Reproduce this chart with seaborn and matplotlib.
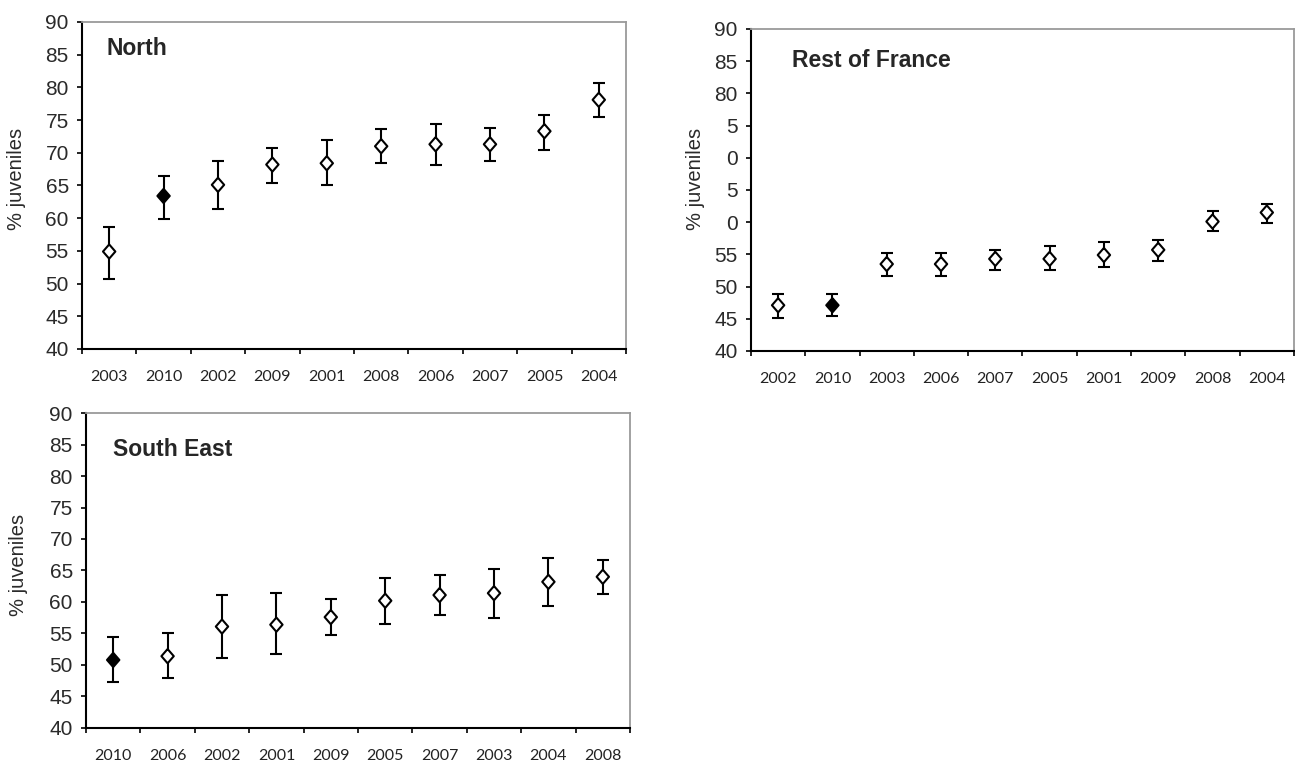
import pandas as pd
import matplotlib
matplotlib.use("Agg")
import matplotlib.pyplot as plt
import seaborn as sns

# North
north_years = ["2003", "2010", "2002", "2009", "2001", "2008", "2006", "2007", "2005", "2004"]
north_mean = [54.9, 63.4, 65.1, 68.2, 68.4, 71.0, 71.3, 71.3, 73.3, 78.1]
north_lo = [50.7, 59.9, 61.4, 65.4, 65.1, 68.5, 68.2, 68.7, 70.4, 75.5]
north_hi = [58.6, 66.5, 68.7, 70.8, 71.9, 73.6, 74.4, 73.8, 75.8, 80.7]

# Rest of France
rest_years = ["2002", "2010", "2003", "2006", "2007", "2005", "2001", "2009", "2008", "2004"]
rest_mean = [47.1, 47.1, 53.5, 53.5, 54.3, 54.3, 54.9, 55.7, 60.1, 61.5]
rest_lo = [45.1, 45.4, 51.7, 51.7, 52.6, 52.6, 53.1, 54.0, 58.6, 59.8]
rest_hi = [48.8, 48.8, 55.2, 55.2, 55.7, 56.3, 56.9, 57.2, 61.8, 62.9]

# South East
se_years = ["2010", "2006", "2002", "2001", "2009", "2005", "2007", "2003", "2004", "2008"]
se_mean = [50.8, 51.4, 56.1, 56.4, 57.6, 60.2, 61.1, 61.4, 63.2, 64.0]
se_lo = [47.3, 47.9, 51.1, 51.7, 54.7, 56.5, 57.9, 57.4, 59.3, 61.2]
se_hi = [54.4, 55.0, 61.1, 61.4, 60.5, 63.8, 64.3, 65.2, 67.0, 66.7]

y_ticks = [40, 45, 50, 55, 60, 65, 70, 75, 80, 85, 90]
y_labels = ["40", "45", "50", "55", "60", "65", "70", "75", "80", "85", "90"]
y_labels_rest = ["40", "45", "50", "55", "0", "5", "0", "5", "80", "85", "90"]

sns.set_style("white")
plt.rcParams["font.family"] = ["Liberation Sans", "DejaVu Sans"]

diamond = [(0, 1), (0.87, 0), (0, -1), (-0.87, 0), (0, 1)]

fig = plt.figure(figsize=(12.95, 7.63), dpi=100)
panels = [
    ("North", north_years, north_mean, north_lo, north_hi, y_labels,
     [0.0633, 0.5426, 0.4201, 0.4286], (0.046, 0.955), (-0.103, 0.52)),
    ("Rest of France", rest_years, rest_mean, rest_lo, rest_hi, y_labels_rest,
     [0.5799, 0.5400, 0.4193, 0.4220], (0.076, 0.937), (-0.085, 0.534)),
    ("South East", se_years, se_mean, se_lo, se_hi, y_labels,
     [0.0664, 0.0459, 0.4201, 0.4128], (0.05, 0.922), (-0.107, 0.517)),
]

for title, years, mean, lo, hi, ylabs, rect, tpos, lpos in panels:
    ax = fig.add_axes(rect)
    df = pd.DataFrame({"year": years, "mean": mean, "lo": lo, "hi": hi})
    df["pos"] = range(len(df))
    df["last"] = df["year"] == "2010"

    ax.errorbar(df["pos"], df["mean"],
                yerr=[df["mean"] - df["lo"], df["hi"] - df["mean"]],
                fmt="none", ecolor="black", elinewidth=1.5,
                capsize=4.5, capthick=1.5, zorder=2)
    sns.scatterplot(data=df, x="pos", y="mean", hue="last",
                    palette={True: "black", False: "white"},
                    marker=diamond, s=105, edgecolor="black", linewidth=1.5,
                    legend=False, zorder=3, ax=ax)

    ax.set_xlim(-0.5, len(years) - 0.5)
    ax.set_ylim(40, 90)
    ax.set_yticks(y_ticks)
    ax.set_yticklabels(ylabs)
    ax.tick_params(axis="y", which="major", left=True, length=3.5, width=1.2,
                   color="black", pad=6, labelsize=15, labelcolor="#2a2a2a")

    ax.set_xticks([i + 0.5 for i in range(-1, len(years))])
    ax.set_xticklabels([])
    ax.set_xticks(range(len(years)), minor=True)
    ax.set_xticklabels(years, minor=True, family=["Lato", "DejaVu Sans"])
    ax.tick_params(axis="x", which="major", bottom=True, length=3.5, width=1.2,
                   color="black")
    ax.tick_params(axis="x", which="minor", bottom=True, length=0, pad=15,
                   labelsize=11.5, labelcolor="#222222")

    for side in ["left", "bottom"]:
        ax.spines[side].set_color("black")
        ax.spines[side].set_linewidth(1.5)
    for side in ["top", "right"]:
        ax.spines[side].set_color("#9a9a9a")
        ax.spines[side].set_linewidth(1.3)

    ax.set_xlabel("")
    ax.set_ylabel("% juveniles", fontsize=14.5, color="#2a2a2a")
    ax.yaxis.set_label_coords(*lpos)
    ax.text(tpos[0], tpos[1], title, transform=ax.transAxes, va="top", ha="left",
            fontsize=16.5, fontweight="bold",
            family=["Liberation Sans Narrow", "Liberation Sans", "DejaVu Sans"])

plt.savefig("out.png", dpi=100)
